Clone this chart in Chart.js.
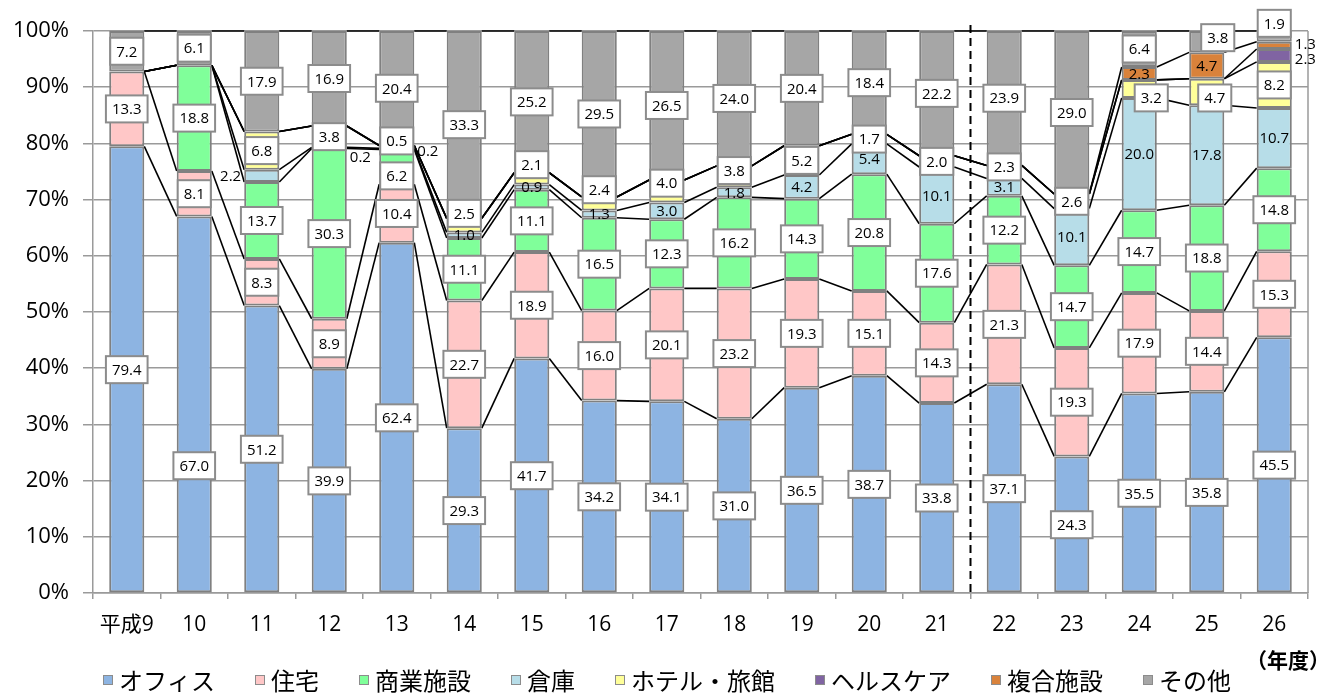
<!DOCTYPE html>
<html>
<head>
<meta charset="utf-8">
<script src="https://cdn.jsdelivr.net/npm/chart.js@4"></script>
<style>
  html, body { margin: 0; padding: 0; background: #fff; }
  #wrap { width: 1340px; height: 693px; }
</style>
</head>
<body>
<div id="wrap"><canvas id="myChart"></canvas></div>
<script>
// 年度
const years = ["平成9", "10", "11", "12", "13", "14", "15", "16", "17", "18", "19", "20", "21", "22", "23", "24", "25", "26"];

// 用途別構成比 (%)
const office     = [79.4, 67.0, 51.2, 39.9, 62.4, 29.3, 41.7, 34.2, 34.1, 31.0, 36.5, 38.7, 33.8, 37.1, 24.3, 35.5, 35.8, 45.5];
const housing    = [13.3, 8.1, 8.3, 8.9, 10.4, 22.7, 18.9, 16.0, 20.1, 23.2, 19.3, 15.1, 14.3, 21.3, 19.3, 17.9, 14.4, 15.3];
const commercial = [0, 18.8, 13.7, 30.3, 6.2, 11.1, 11.1, 16.5, 12.3, 16.2, 14.3, 20.8, 17.6, 12.2, 14.7, 14.7, 18.8, 14.8];
const warehouse  = [0, 0, 2.2, 0.2, 0.2, 1.0, 0.9, 1.3, 3.0, 1.8, 4.2, 5.4, 10.1, 3.1, 10.1, 20.0, 17.8, 10.7];
const hotel      = [0, 0, 6.8, 3.8, 0.5, 2.5, 2.1, 2.4, 4.0, 3.8, 5.2, 1.7, 2.0, 2.3, 2.6, 3.2, 4.7, 8.2];
const healthcare = [0, 0, 0, 0, 0, 0, 0, 0, 0, 0, 0, 0, 0, 0, 0, 0, 0, 2.3];
const mixed      = [0, 0, 0, 0, 0, 0, 0, 0, 0, 0, 0, 0, 0, 0, 0, 2.3, 4.7, 1.3];
const other      = [7.2, 6.1, 17.9, 16.9, 20.4, 33.3, 25.2, 29.5, 26.5, 24.0, 20.4, 18.4, 22.2, 23.9, 29.0, 6.4, 3.8, 1.9];

const seriesNames  = ["オフィス", "住宅", "商業施設", "倉庫", "ホテル・旅館", "ヘルスケア", "複合施設", "その他"];
const seriesValues = [office, housing, commercial, warehouse, hotel, healthcare, mixed, other];
const seriesColors = ["#8DB4E2", "#FFC7C7", "#80FF9A", "#B7DDE8", "#FFFF99", "#8064A2", "#D9823B", "#A6A6A6"];
// labels drawn in a white box (the others are plain text)
const boxed = [true, true, true, false, true, false, false, true];

const NUM_FONT = '"Open Sans", "Noto Sans CJK JP", sans-serif';
const JP_FONT = '"Noto Sans CJK JP", sans-serif';

// 100% stacked: scale each year to its total
const totals = years.map((_, i) => seriesValues.reduce((s, arr) => s + arr[i], 0));
const pct = (arr, i) => arr[i] / totals[i] * 100;

// hand-moved data labels (series index : year index)
const labelTweaks = {
  "0:1": { dy: 61 },
  "2:4": { dy: 9 },
  "4:4": { dy: -6 }, "4:5": { dy: -12 }, "4:6": { dy: -14 }, "4:7": { dy: -14 },
  "4:8": { dy: -8 }, "4:9": { dy: -6 }, "4:13": { dy: -5 },
  "4:15": { dx: 12, dy: 9 }, "4:16": { dx: 8, dy: 6 },
  "7:16": { dx: 11, dy: -4 }, "7:17": { dy: -13 },
  "3:2": { side: "left" }, "3:3": { side: "right", dy: 9 }, "3:4": { side: "right", dy: 2 },
  "5:17": { side: "right", dy: 3 }, "6:17": { side: "right", dy: -2 }
};

const seriesLines = {
  id: "seriesLines",
  beforeDatasetsDraw(chart) {
    const ctx = chart.ctx, y = chart.scales.y, area = chart.chartArea;
    const bars = chart.getDatasetMeta(0).data;
    ctx.save();
    // right border of plot area
    ctx.strokeStyle = "#9A9A9A";
    ctx.lineWidth = 1.5;
    ctx.beginPath();
    ctx.moveTo(area.right, area.top);
    ctx.lineTo(area.right, area.bottom);
    ctx.stroke();

    ctx.strokeStyle = "#000";
    ctx.lineWidth = 1.6;
    for (let i = 0; i < years.length - 1; i++) {
      const x1 = bars[i].x + bars[i].width / 2;
      const x2 = bars[i + 1].x - bars[i + 1].width / 2;
      let c1 = 0, c2 = 0;
      seriesValues.forEach(arr => {
        c1 += pct(arr, i);
        c2 += pct(arr, i + 1);
        ctx.beginPath();
        ctx.moveTo(x1, y.getPixelForValue(c1));
        ctx.lineTo(x2, y.getPixelForValue(c2));
        ctx.stroke();
      });
    }
    ctx.restore();
  },
  afterDatasetsDraw(chart) {
    const ctx = chart.ctx, y = chart.scales.y, x = chart.scales.x, area = chart.chartArea;
    const bars = chart.getDatasetMeta(0).data;
    ctx.save();

    // dashed divider between 21 and 22
    const xd = (x.getPixelForValue(12) + x.getPixelForValue(13)) / 2;
    ctx.strokeStyle = "#000";
    ctx.lineWidth = 2;
    ctx.setLineDash([8, 5]);
    ctx.beginPath();
    ctx.moveTo(xd, area.top - 6);
    ctx.lineTo(xd, area.bottom);
    ctx.stroke();
    ctx.setLineDash([]);

    // data labels
    ctx.font = "15px " + NUM_FONT;
    ctx.textBaseline = "middle";
    years.forEach((_, i) => {
      let cum = 0;
      seriesValues.forEach((arr, s) => {
        const v = arr[i];
        const mid = cum + pct(arr, i) / 2;
        cum += pct(arr, i);
        if (!v) return;
        const t = labelTweaks[s + ":" + i] || {};
        const txt = v.toFixed(1);
        const tw = ctx.measureText(txt).width;
        let cx = bars[i].x + (t.dx || 0);
        const cy = y.getPixelForValue(mid) + (t.dy || 0);
        const half = bars[i].width / 2;
        if (t.side === "right") cx = bars[i].x + half + 3 + tw / 2;
        if (t.side === "left") cx = bars[i].x - half - 3 - tw / 2;
        if (boxed[s]) {
          const w = tw + 12, h = 27;
          ctx.fillStyle = "#fff";
          ctx.fillRect(cx - w / 2, cy - h / 2, w, h);
          ctx.strokeStyle = "#8C8C8C";
          ctx.lineWidth = 2;
          ctx.strokeRect(cx - w / 2, cy - h / 2, w, h);
        }
        ctx.fillStyle = "#000";
        ctx.textAlign = "center";
        ctx.fillText(txt, cx, cy + 1);
      });
    });

    // legend
    ctx.font = "24px " + JP_FONT;
    ctx.textAlign = "left";
    const box = 10, boxGap = 6, gap = 40;
    const widths = seriesNames.map(n => ctx.measureText(n).width);
    const total = widths.reduce((a, b) => a + b, 0) + seriesNames.length * (box + boxGap) + (seriesNames.length - 1) * gap;
    let lx = 667 - total / 2;
    const ly = 680;
    seriesNames.forEach((n, k) => {
      ctx.fillStyle = seriesColors[k];
      ctx.fillRect(lx, ly - box / 2, box, box);
      ctx.strokeStyle = "#8C8C8C";
      ctx.lineWidth = 1;
      ctx.strokeRect(lx + 0.5, ly - box / 2 + 0.5, box - 1, box - 1);
      ctx.fillStyle = "#000";
      ctx.fillText(n, lx + box + boxGap, ly + 1);
      lx += box + boxGap + widths[k] + gap;
    });

    // unit
    ctx.font = "bold 21px " + JP_FONT;
    ctx.textAlign = "center";
    ctx.fillText("（年度）", 1288, 660);
    ctx.restore();
  }
};

function DrawPlot() {
  const ctx = document.getElementById("myChart");
  new Chart(ctx, {
    type: "bar",
    data: {
      labels: years,
      datasets: seriesValues.map((arr, s) => ({
        label: seriesNames[s],
        data: arr.map((v, i) => (v ? pct(arr, i) : null)),
        backgroundColor: seriesColors[s],
        borderColor: "#808080",
        borderWidth: 2,
        borderSkipped: false,
        barPercentage: 0.52,
        categoryPercentage: 1.0,
      })),
    },
    options: {
      responsive: true,
      maintainAspectRatio: false,
      animation: false,
      devicePixelRatio: 1,
      layout: { padding: { left: 0, right: 32, top: 31, bottom: 50 } },
      plugins: { legend: { display: false }, tooltip: { enabled: false } },
      scales: {
        x: {
          stacked: true,
          afterFit: (scale) => { scale.height = 50; },
          grid: { drawOnChartArea: false, drawTicks: true, tickLength: 6, color: "#9A9A9A", lineWidth: 1.5, offset: true },
          border: { color: "#9A9A9A", width: 1.5 },
          ticks: { color: "#000", font: { size: 21, family: NUM_FONT }, padding: 13, maxRotation: 0, autoSkip: false },
        },
        y: {
          stacked: true,
          min: 0,
          max: 100,
          afterFit: (scale) => { scale.width = 93; },
          grid: { color: "#9A9A9A", lineWidth: 1.5, tickLength: 10 },
          border: { color: "#9A9A9A", width: 1.5 },
          ticks: {
            stepSize: 10,
            color: "#000",
            padding: 14,
            font: { size: 22, family: NUM_FONT },
            callback: (v) => v + "%",
          },
        },
      },
    },
    plugins: [seriesLines],
  });
}

DrawPlot();
</script>
</body>
</html>
